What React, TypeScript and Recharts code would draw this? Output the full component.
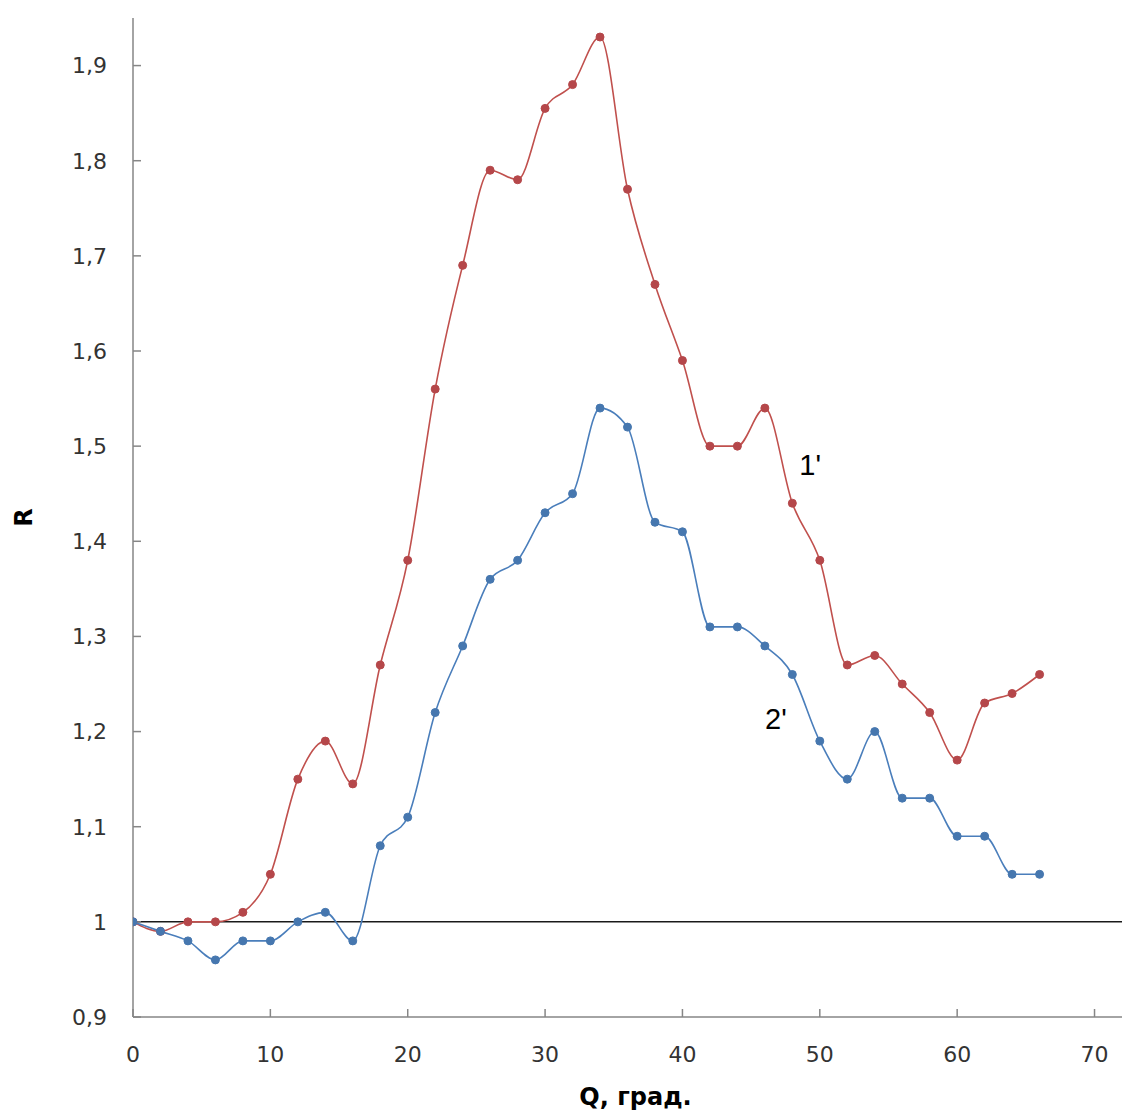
import React from 'react';
import { LineChart, Line, XAxis, YAxis, ReferenceLine, ReferenceDot } from 'recharts';

// angle Q, degrees
const angles = [0, 2, 4, 6, 8, 10, 12, 14, 16, 18, 20, 22, 24, 26, 28, 30, 32, 34, 36, 38, 40, 42, 44, 46, 48, 50, 52, 54, 56, 58, 60, 62, 64, 66];

// curve 1'
const series1 = [1.0, 0.99, 1.0, 1.0, 1.01, 1.05, 1.15, 1.19, 1.145, 1.27, 1.38, 1.56, 1.69, 1.79, 1.78, 1.855, 1.88, 1.93, 1.77, 1.67, 1.59, 1.5, 1.5, 1.54, 1.44, 1.38, 1.27, 1.28, 1.25, 1.22, 1.17, 1.23, 1.24, 1.26];

// curve 2'
const series2 = [1.0, 0.99, 0.98, 0.96, 0.98, 0.98, 1.0, 1.01, 0.98, 1.08, 1.11, 1.22, 1.29, 1.36, 1.38, 1.43, 1.45, 1.54, 1.52, 1.42, 1.41, 1.31, 1.31, 1.29, 1.26, 1.19, 1.15, 1.2, 1.13, 1.13, 1.09, 1.09, 1.05, 1.05];

const xTicks = [0, 10, 20, 30, 40, 50, 60, 70];
const yTicks = [0.9, 1.0, 1.1, 1.2, 1.3, 1.4, 1.5, 1.6, 1.7, 1.8, 1.9];

const annotationLabels = ["1'", "2'"];
const annotationX = [49.3, 46.8];
const annotationY = [1.481, 1.213];

const data = angles.map((q, i) => ({ q, r1: series1[i], r2: series2[i] }));

const axisColor = '#868686';
const tickStyle = { fontFamily: 'DejaVu Sans', fontSize: 22, fill: '#333333' };

const fmtY = (v: number) => (Math.abs(v - 1) < 1e-9 ? '1' : v.toFixed(1).replace('.', ','));

export default function App() {
  return (
    <div style={{ position: 'absolute', left: 0, top: 0, width: 1138, height: 1119, background: '#fff' }}>
      <LineChart width={1138} height={1119} data={data} margin={{ top: 18, right: 16, left: 0, bottom: 0 }}>
        <XAxis
          dataKey="q"
          type="number"
          domain={[0, 72]}
          ticks={xTicks}
          allowDataOverflow
          height={102}
          stroke={axisColor}
          strokeWidth={1.5}
          tickSize={-8}
          tickMargin={37}
          tick={tickStyle}
          label={{
            content: (p: any) => {
              const vb = p.viewBox || {};
              return (
                <text x={vb.x + vb.width / 2 + 8} y={vb.y + 88} textAnchor="middle"
                  style={{ fontFamily: 'DejaVu Sans', fontSize: 24, fontWeight: 'bold', fill: '#000' }}>
                  Q, град.
                </text>
              );
            },
          }}
        />
        <YAxis
          type="number"
          domain={[0.9, 1.95]}
          ticks={yTicks}
          allowDataOverflow
          width={133}
          stroke={axisColor}
          strokeWidth={1.5}
          tickSize={-8}
          tickMargin={34}
          tick={tickStyle}
          tickFormatter={fmtY}
          label={{
            content: (p: any) => {
              const vb = p.viewBox || {};
              const cx = 24;
              const cy = vb.y + vb.height / 2;
              return (
                <text x={cx} y={cy} textAnchor="middle" dominantBaseline="central" transform={`rotate(-90 ${cx} ${cy})`}
                  style={{ fontFamily: 'DejaVu Sans', fontSize: 24, fontWeight: 'bold', fill: '#000' }}>
                  R
                </text>
              );
            },
          }}
        />
        <ReferenceLine y={1} stroke="#1a1a1a" strokeWidth={1.5} />
        <Line
          type="monotone"
          dataKey="r1"
          stroke="#C0504D"
          strokeWidth={1.6}
          dot={{ r: 4, fill: '#B5474A', stroke: '#B5474A', strokeWidth: 1 }}
          isAnimationActive={false}
        />
        <Line
          type="monotone"
          dataKey="r2"
          stroke="#4A7EBB"
          strokeWidth={1.6}
          dot={{ r: 4, fill: '#4677AF', stroke: '#4677AF', strokeWidth: 1 }}
          isAnimationActive={false}
        />
        {annotationLabels.map((t, i) => (
          <ReferenceDot
            key={t}
            x={annotationX[i]}
            y={annotationY[i]}
            r={1}
            fill="none"
            stroke="none"
            label={{ value: t, position: 'center', style: { fontFamily: 'Liberation Sans', fontSize: 29, fill: '#000' } }}
          />
        ))}
      </LineChart>
    </div>
  );
}
